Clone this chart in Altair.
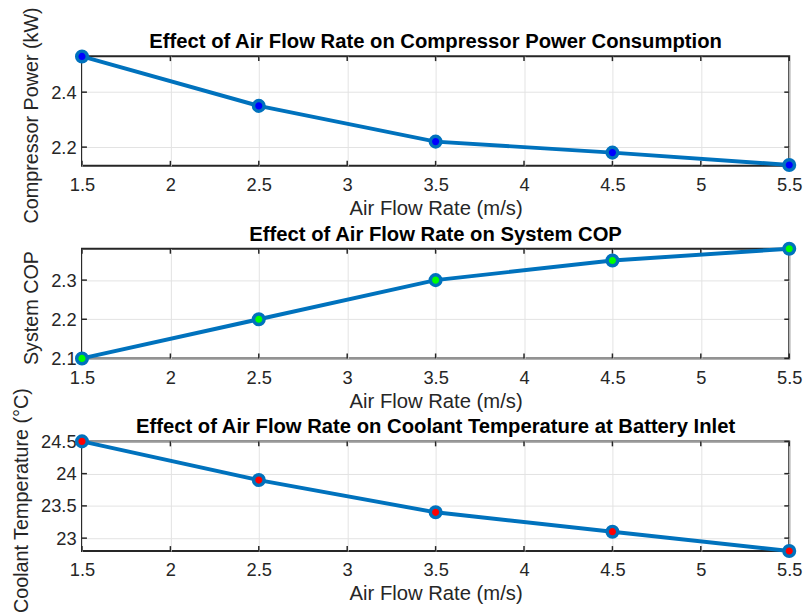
import altair as alt
import pandas as pd

# ---- data ----
airflow = [1.5, 2.5, 3.5, 4.5, 5.5]
power = [2.53, 2.35, 2.22, 2.18, 2.135]
cop = [2.10, 2.20, 2.30, 2.35, 2.38]
coolant = [24.5, 23.9, 23.4, 23.1, 22.8]

x_ticks = [1.5, 2, 2.5, 3, 3.5, 4, 4.5, 5, 5.5]
power_ticks = [2.2, 2.4]
cop_ticks = [2.1, 2.2, 2.3]
coolant_ticks = [23, 23.5, 24, 24.5]

power_domain = [2.132, 2.531]
cop_domain = [2.1, 2.38]
coolant_domain = [22.8, 24.5]

titles = [
    "Effect of Air Flow Rate on Compressor Power Consumption",
    "Effect of Air Flow Rate on System COP",
    "Effect of Air Flow Rate on Coolant Temperature at Battery Inlet",
]
y_titles = ["Compressor Power (kW)", "System COP", "Coolant Temperature (°C)"]
x_title = "Air Flow Rate (m/s)"
fills = ["#0000FF", "#00FF00", "#FF0000"]

W, H = 716, 111
LINE = "#0072BD"
AX = "#262626"
GRID = "#e3e3e3"
FONT = "Liberation Sans"
TICK = 5
LBL = 18.5
TTL = 20.5
YTTL = 20


def panel(yvals, yticks, ydomain, title, ytitle, fill, title_x):
    df = pd.DataFrame({"x": airflow, "y": yvals})
    xt = pd.DataFrame({"x": x_ticks})
    yt = pd.DataFrame({"y": yticks})
    xs = alt.Scale(domain=[1.5, 5.5], nice=False, zero=False)
    ys = alt.Scale(domain=ydomain, nice=False, zero=False)
    xaxis = alt.Axis(
        values=x_ticks, format="~g", title=x_title, grid=True, gridColor=GRID,
        ticks=False, domain=False, labelPadding=10, titlePadding=5,
        labelFontSize=LBL, labelColor=AX, labelFont=FONT,
        titleFontSize=TTL, titleFontWeight="normal", titleColor=AX, titleFont=FONT,
        labelOverlap=False, labelFlush=False,
    )
    yaxis = alt.Axis(
        values=yticks, format="~g", title=ytitle, grid=True, gridColor=GRID,
        ticks=False, domain=False, labelPadding=6,
        labelFontSize=LBL, labelColor=AX, labelFont=FONT,
        titleFontSize=YTTL, titleFontWeight="normal", titleColor=AX, titleFont=FONT,
        titleX=title_x, titleY=H / 2 + 4, titleBaseline="middle",
        labelOverlap=False, labelFlush=False,
    )
    X = alt.X("x:Q", scale=xs, axis=xaxis)
    Y = alt.Y("y:Q", scale=ys, axis=yaxis)

    line = alt.Chart(df).mark_line(color=LINE, strokeWidth=4).encode(x=X, y=Y)
    pts = alt.Chart(df).mark_circle(
        fill=fill, stroke=LINE, strokeWidth=3.5, size=115, opacity=1
    ).encode(x=X, y=Y)

    rule = dict(color=AX, strokeWidth=1.5)
    xt_top = alt.Chart(xt).mark_rule(**rule).encode(x=X, y=alt.value(0), y2=alt.value(TICK))
    xt_bot = alt.Chart(xt).mark_rule(**rule).encode(x=X, y=alt.value(H - TICK), y2=alt.value(H))
    yt_l = alt.Chart(yt).mark_rule(**rule).encode(y=Y, x=alt.value(0), x2=alt.value(TICK))
    yt_r = alt.Chart(yt).mark_rule(**rule).encode(y=Y, x=alt.value(W - TICK), x2=alt.value(W))

    head = alt.Chart(pd.DataFrame({"t": [title]})).mark_text(
        font=FONT, fontSize=TTL, fontWeight="bold", color="black",
        align="center", baseline="middle",
    ).encode(x=alt.value(W / 2), y=alt.value(-14), text="t:N")

    return alt.layer(xt_top, xt_bot, yt_l, yt_r, line, pts, head).properties(
        width=W, height=H,
    )


p1 = panel(power, power_ticks, power_domain, titles[0], y_titles[0], fills[0], -51)
p2 = panel(cop, cop_ticks, cop_domain, titles[1], y_titles[1], fills[1], -51)
p3 = panel(coolant, coolant_ticks, coolant_domain, titles[2], y_titles[2], fills[2], -61)

chart = alt.vconcat(p1, p2, p3, spacing=84, bounds="flush").properties(
    padding={"left": 10, "top": 2, "right": 5, "bottom": 5},
    background="white",
).configure_view(stroke=AX, strokeWidth=2)

chart.save("out.html", embed_options={"renderer": "svg", "actions": False})
